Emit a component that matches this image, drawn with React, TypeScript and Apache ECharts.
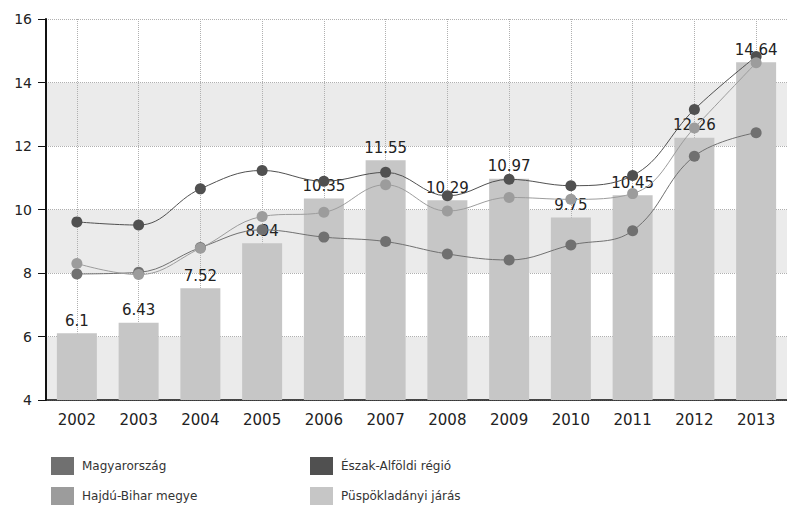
import React, { useEffect, useRef } from "react";
import * as echarts from "echarts";

const years = ["2002", "2003", "2004", "2005", "2006", "2007", "2008", "2009", "2010", "2011", "2012", "2013"];
const puspokladany = [6.1, 6.43, 7.52, 8.94, 10.35, 11.55, 10.29, 10.97, 9.75, 10.45, 12.26, 14.64];
const eszakAlfold = [9.61, 9.51, 10.65, 11.23, 10.89, 11.17, 10.43, 10.95, 10.75, 11.07, 13.15, 14.82];
const hajduBihar = [8.3, 7.95, 8.78, 9.78, 9.91, 10.78, 9.95, 10.38, 10.32, 10.5, 12.57, 14.62];
const magyarorszag = [7.97, 8.02, 8.8, 9.36, 9.13, 8.99, 8.6, 8.41, 8.88, 9.33, 11.68, 12.42];

const FONT = "DejaVu Sans";

export default function App() {
  const ref = useRef<HTMLDivElement>(null);
  useEffect(() => {
    document.body.style.margin = "0";
    const chart = echarts.init(ref.current!, null, { renderer: "svg" });
    const lineSeries = (name: string, data: number[], color: string) => ({
      name,
      type: "line",
      data,
      smooth: 0.4,
      symbol: "circle",
      symbolSize: 11,
      lineStyle: { color, width: 1 },
      itemStyle: { color },
      z: 3,
    });
    chart.setOption({
      animation: false,
      backgroundColor: "#ffffff",
      textStyle: { fontFamily: FONT },
      grid: { left: 46, top: 19, width: 742, height: 381, containLabel: false },
      legend: [
        {
          left: 51,
          top: 457,
          padding: 0,
          orient: "vertical",
          itemWidth: 23,
          itemHeight: 18,
          itemGap: 12,
          icon: "rect",
          data: ["Magyarország", "Hajdú-Bihar megye"],
          textStyle: { fontSize: 12, fontFamily: FONT, color: "#333", padding: [0, 0, 0, 3] },
        },
        {
          left: 310,
          top: 457,
          padding: 0,
          orient: "vertical",
          itemWidth: 23,
          itemHeight: 18,
          itemGap: 12,
          icon: "rect",
          data: ["Észak-Alföldi régió", "Püspökladányi járás"],
          textStyle: { fontSize: 12, fontFamily: FONT, color: "#333", padding: [0, 0, 0, 3] },
        },
      ],
      xAxis: {
        type: "category",
        data: years,
        axisLine: { lineStyle: { color: "#111", width: 1.5 } },
        axisTick: { alignWithLabel: true, length: 7, lineStyle: { color: "#111" } },
        axisLabel: { fontSize: 15, color: "#222", margin: 12, fontFamily: FONT },
        splitLine: { show: true, alignWithLabel: true, lineStyle: { color: "#b0b0b0", type: "dotted" } },
      },
      yAxis: {
        type: "value",
        min: 4,
        max: 16,
        interval: 2,
        axisLine: { show: true, lineStyle: { color: "#111", width: 2 } },
        axisTick: { show: true, length: 8, lineStyle: { color: "#111" } },
        axisLabel: { fontSize: 14, color: "#222", margin: 14, fontFamily: FONT },
        splitLine: { show: true, lineStyle: { color: "#b0b0b0", type: "dotted" } },
        splitArea: { show: true, areaStyle: { color: ["#ebebeb", "#ffffff"] } },
      },
      series: [
        {
          name: "Püspökladányi járás",
          type: "bar",
          data: puspokladany,
          barWidth: 40,
          itemStyle: { color: "#c6c6c6" },
          label: { show: true, position: "top", fontSize: 15, color: "#222", fontFamily: FONT, distance: 5 },
          z: 2,
        },
        lineSeries("Magyarország", magyarorszag, "#707070"),
        lineSeries("Észak-Alföldi régió", eszakAlfold, "#505050"),
        lineSeries("Hajdú-Bihar megye", hajduBihar, "#9c9c9c"),
      ],
    });
    return () => chart.dispose();
  }, []);
  return <div ref={ref} style={{ width: 787, height: 512 }} />;
}
